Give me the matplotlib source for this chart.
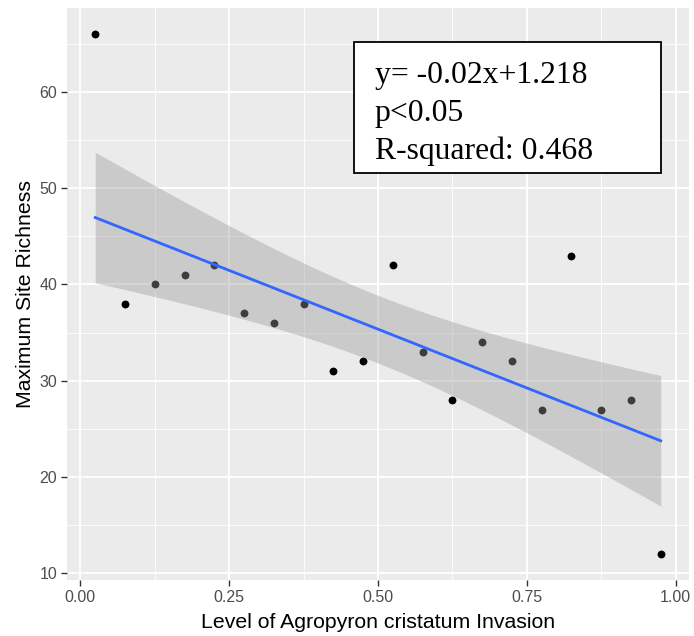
import matplotlib
matplotlib.use("Agg")
import matplotlib.pyplot as plt
import matplotlib.patches as mpatches
import numpy as np
from matplotlib.ticker import MultipleLocator

# ── Data ─────────────────────────────────────────────────────────────────────
invasion = [0.025, 0.075, 0.125, 0.175, 0.225, 0.275, 0.325, 0.375, 0.425, 0.475,
            0.525, 0.575, 0.625, 0.675, 0.725, 0.775, 0.825, 0.875, 0.925, 0.975]
richness = [66, 38, 40, 41, 42, 37, 36, 38, 31, 32,
            42, 33, 28, 34, 32, 27, 43, 27, 28, 12]
x_ticks = [0.00, 0.25, 0.50, 0.75, 1.00]
x_tick_labels = ["0.00", "0.25", "0.50", "0.75", "1.00"]
y_ticks = [10, 20, 30, 40, 50, 60]
stats_text = "y= -0.02x+1.218\np<0.05\nR-squared: 0.468"

# ── Linear fit with 95% confidence band ─────────────────────────────────────
x = np.array(invasion)
y = np.array(richness)
slope, intercept = np.polyfit(x, y, 1)
n = len(x)
resid = y - (slope * x + intercept)
s = np.sqrt(np.sum(resid ** 2) / (n - 2))
sxx = np.sum((x - x.mean()) ** 2)
t_crit = 2.101  # t(0.975, df=18)
xs = np.linspace(x.min(), x.max(), 80)
fit = slope * xs + intercept
half = t_crit * s * np.sqrt(1.0 / n + (xs - x.mean()) ** 2 / sxx)

# ── Plot ─────────────────────────────────────────────────────────────────────
fig = plt.figure(figsize=(6.94, 6.36), dpi=100)
ax = fig.add_axes([0.0965, 0.088, 0.8963, 0.8994])
ax.set_facecolor("#EBEBEB")

# points first, ribbon drawn over them (ggplot layer order)
ax.scatter(x, y, s=32, color="black", zorder=2, linewidths=0)
ax.fill_between(xs, fit - half, fit + half, color="#999999", alpha=0.4,
                linewidth=0, zorder=3)
ax.plot(xs, fit, color="#3366FF", linewidth=2.0, zorder=4)

ax.set_xlim(-0.0225, 1.0225)
ax.set_ylim(9.3, 68.7)
ax.set_xticks(x_ticks)
ax.set_xticklabels(x_tick_labels)
ax.set_yticks(y_ticks)
ax.xaxis.set_minor_locator(MultipleLocator(0.125))
ax.yaxis.set_minor_locator(MultipleLocator(5))

ax.grid(which="major", color="white", linewidth=1.3, zorder=0)
ax.grid(which="minor", color="white", linewidth=0.6, zorder=0)
ax.set_axisbelow(True)
for sp in ax.spines.values():
    sp.set_visible(False)

ax.tick_params(which="major", length=4, width=1.0, color="#333333",
               labelcolor="#4D4D4D", labelsize=11.5, pad=3)
ax.tick_params(which="minor", length=0)
for lbl in ax.get_xticklabels() + ax.get_yticklabels():
    lbl.set_family("Liberation Sans")

ax.set_xlabel("Level of Agropyron cristatum Invasion", fontsize=15.3,
              family="Liberation Sans", labelpad=6)
ax.set_ylabel("Maximum Site Richness", fontsize=15.3,
              family="Liberation Sans", labelpad=3)

# annotation box with fit statistics
box = mpatches.Rectangle((0.4614, 0.7115), 0.4936, 0.2291, transform=ax.transAxes,
                         facecolor="white", edgecolor="black", linewidth=1.3,
                         zorder=5)
ax.add_patch(box)
ax.text(0.495, 0.907, stats_text, transform=ax.transAxes, ha="left", va="top",
        fontsize=22.8, family="Liberation Serif", linespacing=1.38, zorder=6)

fig.savefig("out.png", dpi=100)
